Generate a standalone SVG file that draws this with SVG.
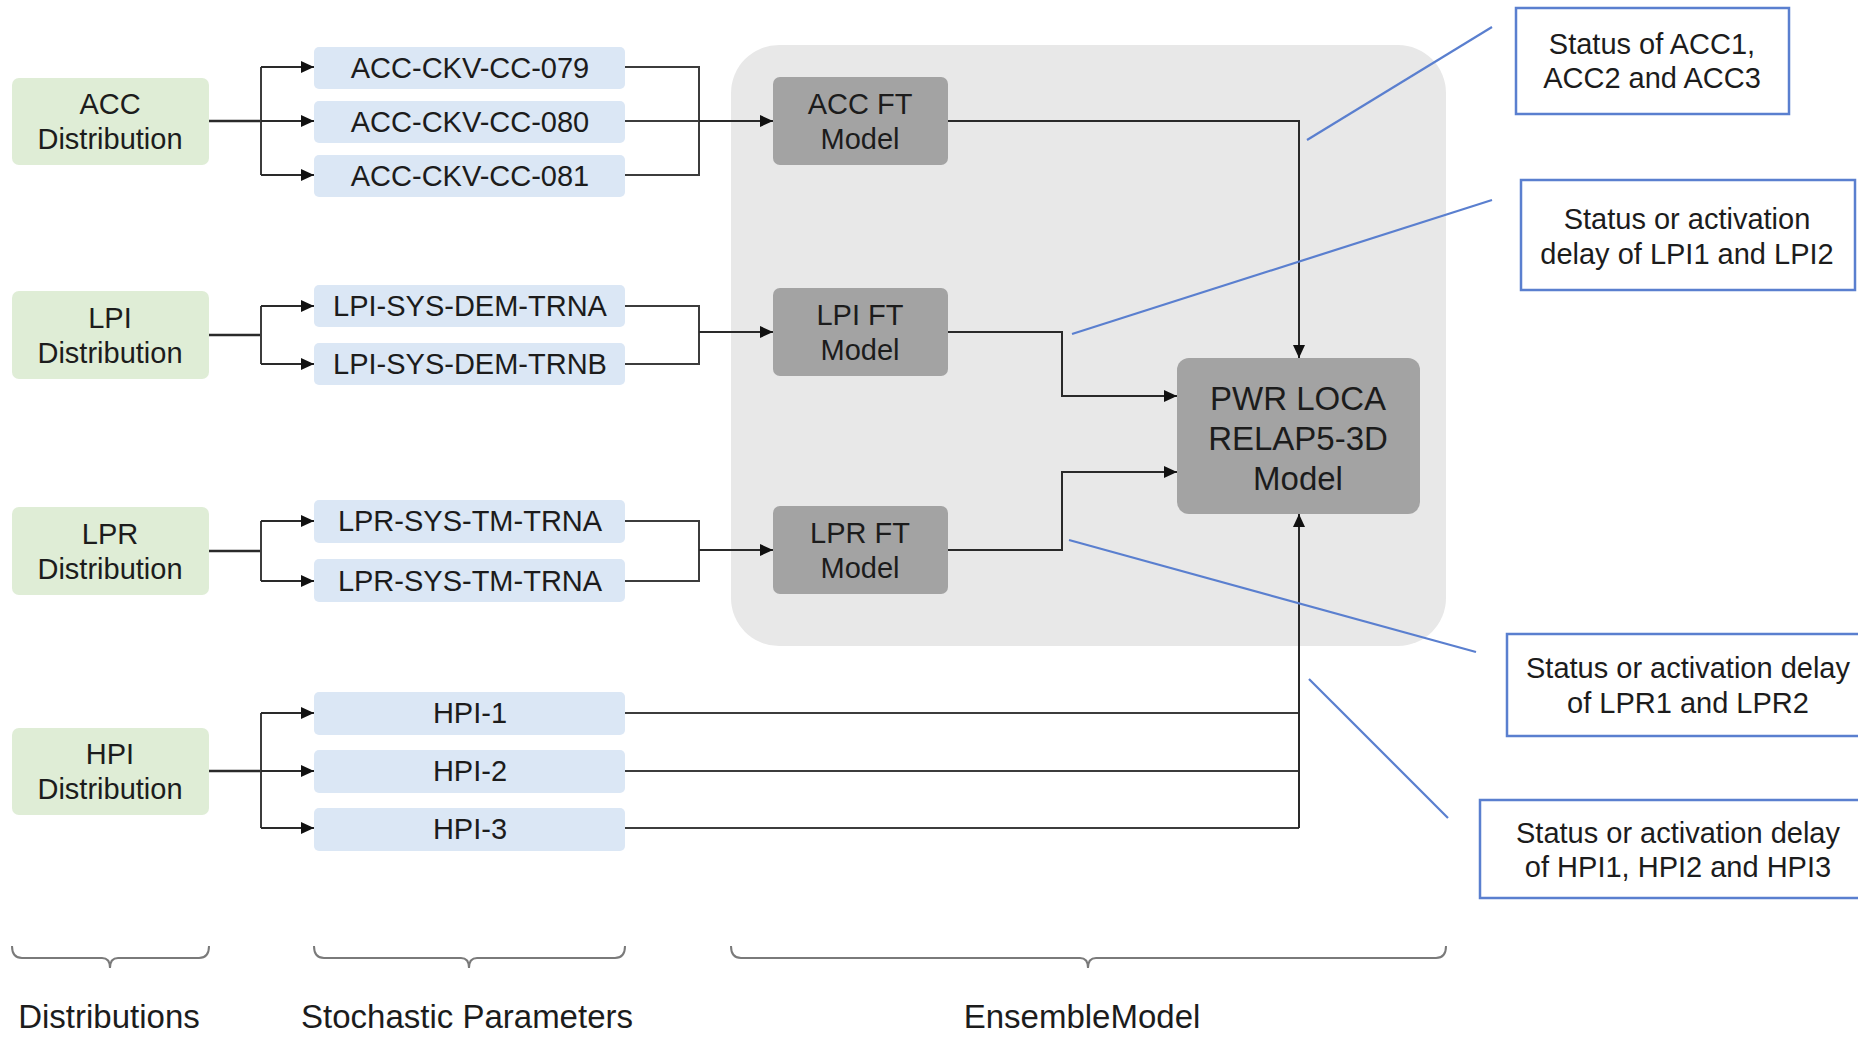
<svg xmlns="http://www.w3.org/2000/svg" width="1858" height="1037" viewBox="0 0 1858 1037">
  <defs>
    <style>
      text { font-family: "Liberation Sans", Arial, sans-serif; fill: #1c1c1c; text-anchor: middle; }
      .lbl { font-size: 29px; }
      .big { font-size: 33px; }
      .dist { fill: #dfedd6; }
      .param { fill: #dbe7f5; }
      .ft { fill: #a3a3a3; }
      .ens { fill: #e8e8e8; }
      .note { fill: #ffffff; stroke: #5a7fcf; stroke-width: 2.5; }
      .wire { fill: none; stroke: #3c3c3c; stroke-width: 2; }
      .feed { fill: none; stroke: #2a2a2a; stroke-width: 2.6; }
      .arrow { fill: none; stroke: #2a2a2a; stroke-width: 2; marker-end: url(#head); }
      .lead { fill: none; stroke: #5a7fcf; stroke-width: 2.2; }
      .brace { fill: none; stroke: #7a7a7a; stroke-width: 2; }
    </style>
    <marker id="head" markerUnits="userSpaceOnUse" markerWidth="14" markerHeight="12" refX="13" refY="6" orient="auto">
      <path d="M0,0 L13,6 L0,12 z" fill="#111"/>
    </marker>
  </defs>

  <!-- ensemble background -->
  <rect id="ensemble" class="ens" x="731" y="45" width="715" height="601" rx="48"/>

  <!-- distribution nodes -->
  <g id="acc-dist"><rect class="dist" x="12" y="78" width="197" height="87" rx="7"/>
    <text class="lbl" x="110" y="114">ACC</text><text class="lbl" x="110" y="149">Distribution</text></g>
  <g id="lpi-dist"><rect class="dist" x="12" y="291" width="197" height="88" rx="7"/>
    <text class="lbl" x="110" y="328">LPI</text><text class="lbl" x="110" y="363">Distribution</text></g>
  <g id="lpr-dist"><rect class="dist" x="12" y="507" width="197" height="88" rx="7"/>
    <text class="lbl" x="110" y="544">LPR</text><text class="lbl" x="110" y="579">Distribution</text></g>
  <g id="hpi-dist"><rect class="dist" x="12" y="728" width="197" height="87" rx="7"/>
    <text class="lbl" x="110" y="764">HPI</text><text class="lbl" x="110" y="799">Distribution</text></g>

  <!-- stochastic parameter nodes -->
  <g id="acc-079"><rect class="param" x="314" y="47" width="311" height="42" rx="5"/><text class="lbl" x="470" y="78">ACC-CKV-CC-079</text></g>
  <g id="acc-080"><rect class="param" x="314" y="101" width="311" height="42" rx="5"/><text class="lbl" x="470" y="132">ACC-CKV-CC-080</text></g>
  <g id="acc-081"><rect class="param" x="314" y="155" width="311" height="42" rx="5"/><text class="lbl" x="470" y="186">ACC-CKV-CC-081</text></g>
  <g id="lpi-trna"><rect class="param" x="314" y="285" width="311" height="42" rx="5"/><text class="lbl" x="470" y="316">LPI-SYS-DEM-TRNA</text></g>
  <g id="lpi-trnb"><rect class="param" x="314" y="343" width="311" height="42" rx="5"/><text class="lbl" x="470" y="374">LPI-SYS-DEM-TRNB</text></g>
  <g id="lpr-trna"><rect class="param" x="314" y="500" width="311" height="43" rx="5"/><text class="lbl" x="470" y="531">LPR-SYS-TM-TRNA</text></g>
  <g id="lpr-trna-2"><rect class="param" x="314" y="559" width="311" height="43" rx="5"/><text class="lbl" x="470" y="591">LPR-SYS-TM-TRNA</text></g>
  <g id="hpi-1"><rect class="param" x="314" y="692" width="311" height="43" rx="5"/><text class="lbl" x="470" y="723">HPI-1</text></g>
  <g id="hpi-2"><rect class="param" x="314" y="750" width="311" height="43" rx="5"/><text class="lbl" x="470" y="781">HPI-2</text></g>
  <g id="hpi-3"><rect class="param" x="314" y="808" width="311" height="43" rx="5"/><text class="lbl" x="470" y="839">HPI-3</text></g>

  <!-- fault tree models -->
  <g id="acc-ft"><rect class="ft" x="773" y="77" width="175" height="88" rx="7"/>
    <text class="lbl" x="860" y="114">ACC FT</text><text class="lbl" x="860" y="149">Model</text></g>
  <g id="lpi-ft"><rect class="ft" x="773" y="288" width="175" height="88" rx="7"/>
    <text class="lbl" x="860" y="325">LPI FT</text><text class="lbl" x="860" y="360">Model</text></g>
  <g id="lpr-ft"><rect class="ft" x="773" y="506" width="175" height="88" rx="7"/>
    <text class="lbl" x="860" y="543">LPR FT</text><text class="lbl" x="860" y="578">Model</text></g>

  <!-- thermal-hydraulic model -->
  <g id="relap"><rect class="ft" x="1177" y="358" width="243" height="156" rx="12"/>
    <text class="big" x="1298" y="410">PWR LOCA</text>
    <text class="big" x="1298" y="450">RELAP5-3D</text>
    <text class="big" x="1298" y="490">Model</text></g>

  <!-- connectors -->
  <g id="connectors">
    <!-- ACC -->
    <path class="feed" d="M209,121 H261"/>
    <path class="wire" d="M261,67 V175"/>
    <path class="arrow" d="M261,67 H314"/>
    <path class="arrow" d="M261,121 H314"/>
    <path class="arrow" d="M261,175 H314"/>
    <path class="wire" d="M625,67 H699 V175 H625 M625,121 H699"/>
    <path class="arrow" d="M699,121 H773"/>
    <!-- LPI -->
    <path class="feed" d="M209,335 H261"/>
    <path class="wire" d="M261,306 V364"/>
    <path class="arrow" d="M261,306 H314"/>
    <path class="arrow" d="M261,364 H314"/>
    <path class="wire" d="M625,306 H699 V364 H625"/>
    <path class="arrow" d="M699,332 H773"/>
    <!-- LPR -->
    <path class="feed" d="M209,551 H261"/>
    <path class="wire" d="M261,521 V581"/>
    <path class="arrow" d="M261,521 H314"/>
    <path class="arrow" d="M261,581 H314"/>
    <path class="wire" d="M625,521 H699 V581 H625"/>
    <path class="arrow" d="M699,550 H773"/>
    <!-- HPI -->
    <path class="feed" d="M209,771 H261"/>
    <path class="wire" d="M261,713 V828"/>
    <path class="arrow" d="M261,713 H314"/>
    <path class="arrow" d="M261,771 H314"/>
    <path class="arrow" d="M261,828 H314"/>
    <!-- into RELAP5-3D -->
    <path class="arrow" d="M948,121 H1299 V358"/>
    <path class="arrow" d="M948,332 H1062 V396 H1177"/>
    <path class="arrow" d="M948,550 H1062 V472 H1177"/>
    <path class="wire" d="M625,713 H1299 M625,771 H1299 M625,828 H1299"/>
    <path class="arrow" d="M1299,828 V514"/>
  </g>

  <!-- annotations -->
  <g id="note-acc"><rect class="note" x="1516" y="8" width="273" height="106"/>
    <text class="lbl" x="1652" y="54">Status of ACC1,</text><text class="lbl" x="1652" y="88">ACC2 and ACC3</text></g>
  <g id="note-lpi"><rect class="note" x="1521" y="180" width="334" height="110"/>
    <text class="lbl" x="1687" y="229">Status or activation</text><text class="lbl" x="1687" y="264">delay of LPI1 and LPI2</text></g>
  <g id="note-lpr"><rect class="note" x="1507" y="634" width="370" height="102"/>
    <text class="lbl" x="1688" y="678">Status or activation delay</text><text class="lbl" x="1688" y="713">of LPR1 and LPR2</text></g>
  <g id="note-hpi"><rect class="note" x="1480" y="800" width="397" height="98"/>
    <text class="lbl" x="1678" y="843">Status or activation delay</text><text class="lbl" x="1678" y="877">of HPI1, HPI2 and HPI3</text></g>
  <g id="leaders">
    <path class="lead" d="M1307,140 L1492,27"/>
    <path class="lead" d="M1072,334 L1492,200"/>
    <path class="lead" d="M1069,540 L1476,652"/>
    <path class="lead" d="M1309,679 L1448,818"/>
  </g>

  <!-- column braces and captions -->
  <g id="braces">
    <path class="brace" d="M12,946 Q12,958 22,958 H102 Q110,958 110,968 Q110,958 118,958 H199 Q209,958 209,946"/>
    <path class="brace" d="M314,946 Q314,958 324,958 H461 Q469,958 469,968 Q469,958 477,958 H615 Q625,958 625,946"/>
    <path class="brace" d="M731,946 Q731,958 741,958 H1080 Q1088,958 1088,968 Q1088,958 1096,958 H1436 Q1446,958 1446,946"/>
  </g>
  <text class="big" x="109" y="1028">Distributions</text>
  <text class="big" x="467" y="1028">Stochastic Parameters</text>
  <text class="big" x="1082" y="1028">EnsembleModel</text>
</svg>
